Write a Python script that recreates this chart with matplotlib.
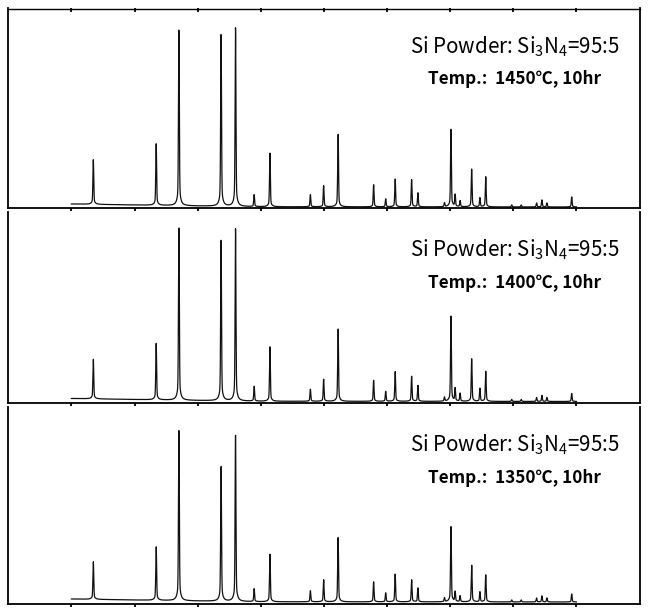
import matplotlib
matplotlib.use("Agg")
import matplotlib.pyplot as plt
import numpy as np

plt.rcParams["font.family"] = ["Noto Sans CJK KR", "DejaVu Sans"]
plt.rcParams["mathtext.fontset"] = "custom"
plt.rcParams["mathtext.rm"] = "Noto Sans CJK KR"

# peak positions (2-theta, deg) shared by all three patterns
peak_pos = [13.47, 23.43, 27.03, 33.71, 36.00, 38.95, 41.45, 47.86, 49.96,
            52.25, 57.88, 59.79, 61.29, 63.90, 64.89, 69.10, 70.13, 70.79,
            71.58, 73.41, 74.72, 75.64, 79.76, 81.26, 83.69, 84.54, 85.33, 89.26]

# peak heights
h_1450 = [45, 62, 177, 173, 178, 12, 54, 12, 21, 73, 22, 8, 28, 27, 14, 4,
          78, 12, 6, 38, 9, 30, 2, 2, 4, 7, 4, 10]
h_1400 = [40, 57, 174, 162, 172, 15, 55, 12, 22, 73, 21, 10, 30, 25, 16, 4,
          86, 13, 8, 43, 13, 30, 2, 2, 4, 6, 4, 8]
h_1350 = [38, 54, 172, 136, 166, 13, 48, 11, 22, 65, 20, 9, 28, 22, 14, 4,
          76, 10, 6, 37, 10, 27, 2, 2, 4, 6, 4, 8]

# background level anchors
bg_x = [10, 20, 30, 40, 90]
bg_1450 = [4.0, 3.0, 2.0, 1.2, 1.0]
bg_1400 = [4.0, 3.0, 2.0, 1.2, 1.0]
bg_1350 = [5.0, 4.0, 3.0, 2.2, 2.0]

temps = ["1450", "1400", "1350"]
heights = [h_1450, h_1400, h_1350]
bgs = [bg_1450, bg_1400, bg_1350]
ylims = [199, 190.5, 197]

# panel placement in pixels (top, bottom)
W, H = 649, 611
panels = [(8.5, 208), (212, 402.5), (407, 604)]
x0, x1 = 8.3, 639.5

fig = plt.figure(figsize=(W / 100, H / 100), dpi=100)

two_theta = np.arange(10, 90.001, 0.02)
xt = np.arange(10, 91, 10)

for i, (top, bot) in enumerate(panels):
    ax = fig.add_axes([x0 / W, 1 - bot / H, (x1 - x0) / W, (bot - top) / H])
    y = np.interp(two_theta, bg_x, bgs[i])
    for p, h in zip(peak_pos, heights[i]):
        dx = two_theta - p
        y = y + h * (0.88 * np.exp(-(dx / 0.09) ** 2) + 0.12 / (1 + (dx / 0.22) ** 2))
    ax.plot(two_theta, y, color="#111111", lw=0.9)
    ax.set_xlim(0, 100)
    ax.set_ylim(0, ylims[i])
    ax.set_xticks(xt)
    ax.set_yticks([])
    ax.tick_params(axis="x", labelbottom=False, bottom=True, top=False,
                   direction="out", length=2.5, width=1.3)
    for s in ax.spines.values():
        s.set_linewidth(1.3)
        s.set_color("black")
    if i == 0:
        ax.spines["top"].set_linewidth(1.0)
        sec = ax.secondary_xaxis("top")
        sec.set_xticks(xt)
        sec.tick_params(direction="in", length=3, width=1.3, labeltop=False)
        sec.spines["top"].set_visible(False)
    else:
        ax.spines["top"].set_visible(False)

    ax.text(0.802, 1 - (38 / (bot - top)), r"Si Powder: Si$_3$N$_4$=95:5",
            transform=ax.transAxes, ha="center", va="center", fontsize=14.8)
    ax.text(0.802, 1 - (71 / (bot - top)), "Temp.:  %s\u2103, 10hr" % temps[i],
            transform=ax.transAxes, ha="center", va="center", fontsize=12.3,
            weight="bold")

plt.savefig("out.png", dpi=100, facecolor="white")
